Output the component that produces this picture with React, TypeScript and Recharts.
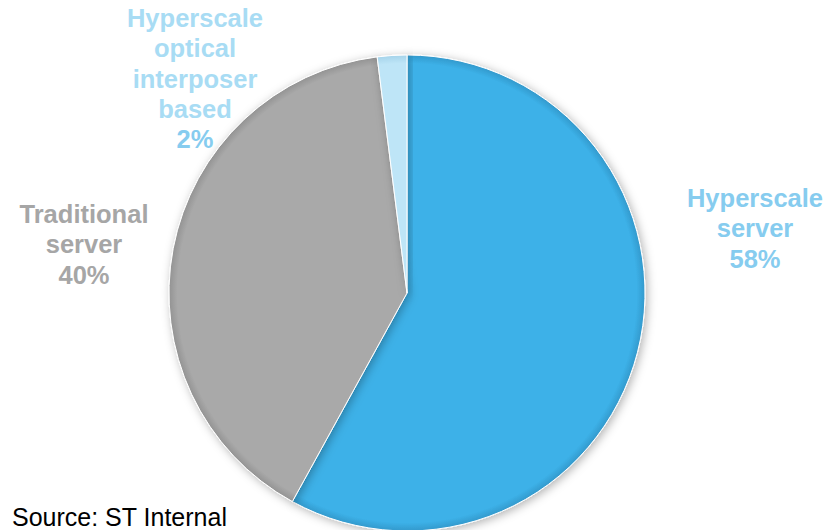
import React from "react";
import { PieChart, Pie, Cell } from "recharts";

const categories = ["Hyperscale server", "Traditional server", "Hyperscale optical interposer based"];
const shares = [58, 40, 2];
const labelLines = [["Hyperscale", "server"], ["Traditional", "server"], ["Hyperscale", "optical", "interposer", "based"]];

const COLORS = [
  { base: "#3CB1E8", dark: "#3399CC", label: "#86CCEF", pct: "#86CCEF" },
  { base: "#A9A9A9", dark: "#939393", label: "#A6A6A6", pct: "#A6A6A6" },
  { base: "#BEE5F7", dark: "#A5D3EA", label: "#A8DCF4", pct: "#86CCEF" },
];
const LABEL_POS = [
  { x: 755, y: 207 },
  { x: 84, y: 223 },
  { x: 195, y: 27 },
];

const data = categories.map((name, i) => ({ name, value: shares[i], lines: labelLines[i] }));

const CX = 407;
const CY = 293;
const R = 238;

const renderLabel = (props: any) => {
  const i = props.index;
  const p = LABEL_POS[i];
  const lines: string[] = [...data[i].lines, `${data[i].value}%`];
  return (
    <text
      key={`lbl-${i}`}
      x={p.x}
      y={p.y}
      textAnchor="middle"
      fontFamily="'Liberation Sans', Arial, sans-serif"
      fontWeight="bold"
      fontSize={25.5}
    >
      {lines.map((l, k) => (
        <tspan
          key={k}
          x={p.x}
          dy={k === 0 ? 0 : 30.3}
          fill={k === lines.length - 1 ? COLORS[i].pct : COLORS[i].label}
        >
          {l}
        </tspan>
      ))}
    </text>
  );
};

export default function App() {
  return (
    <div style={{ position: "absolute", left: 0, top: 0, width: 835, height: 530, overflow: "hidden", background: "#fff" }}>
      <PieChart width={835} height={530} margin={{ top: 0, right: 0, bottom: 0, left: 0 }}>
        <defs>
          {COLORS.map((c, i) => (
            <radialGradient key={i} id={`g${i}`} gradientUnits="userSpaceOnUse" cx={CX} cy={CY} r={R}>
              <stop offset="0" stopColor={c.base} />
              <stop offset="0.965" stopColor={c.base} />
              <stop offset="1" stopColor={c.dark} />
            </radialGradient>
          ))}
          <filter id="shadow" x="-20%" y="-20%" width="140%" height="140%">
            <feDropShadow dx="2" dy="2" stdDeviation="5" floodColor="#000" floodOpacity="0.3" />
          </filter>
        </defs>
        <Pie
          data={data}
          dataKey="value"
          nameKey="name"
          cx={CX}
          cy={CY}
          outerRadius={R}
          startAngle={90}
          endAngle={-270}
          stroke="#ffffff"
          strokeWidth={1}
          label={renderLabel}
          labelLine={false}
          isAnimationActive={false}
          style={{ filter: "url(#shadow)" }}
        >
          {data.map((d, i) => (
            <Cell key={d.name} fill={`url(#g${i})`} />
          ))}
        </Pie>
        <text x={12} y={526} fontFamily="'Liberation Sans', Arial, sans-serif" fontSize={25} fill="#000">
          Source: ST Internal
        </text>
      </PieChart>
    </div>
  );
}
